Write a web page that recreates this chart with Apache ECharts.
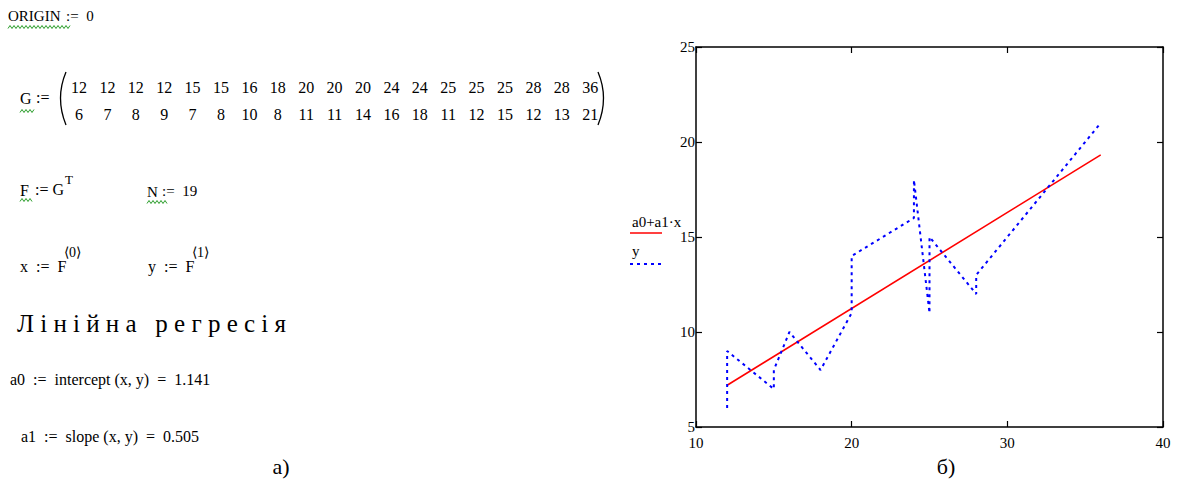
<!DOCTYPE html>
<html>
<head>
<meta charset="utf-8">
<script src="https://cdn.jsdelivr.net/npm/echarts@6/dist/echarts.min.js"></script>
<style>
html,body{margin:0;padding:0;background:#fff;}
#c{width:1178px;height:483px;}
</style>
</head>
<body>
<div id="c"></div>
<script>
// ---- data ----
var xData = [12,12,12,12,15,15,16,18,20,20,20,24,24,25,25,25,28,28,36];
var yData = [6,7,8,9,7,8,10,8,11,11,14,16,18,11,12,15,12,13,21];
var fitX = [12, 36];
var fitY = [7.20, 19.32];
var xTicks = [10, 20, 30, 40];
var yTicks = [5, 10, 15, 20, 25];
var a0Text = '1.141';
var a1Text = '0.505';

var serif = 'Liberation Serif';
var chart = echarts.init(document.getElementById('c'), null, {renderer:'svg'});

function txt(x, y, s, size, extra) {
  var o = {type:'text', x:x, y:y, style:{text:s, fontSize:size||14, fontFamily:serif, fill:'#000', textVerticalAlign:'middle'}};
  if (extra) for (var k in extra) o.style[k] = extra[k];
  return o;
}
function wavy(x0, x1, y) {
  var pts = [], i = 0;
  for (var x = x0; x <= x1; x += 2) { pts.push([x, y + (i % 2 ? -1.5 : 1.5)]); i++; }
  return {type:'polyline', shape:{points:pts}, style:{stroke:'#2a9d2a', lineWidth:1, fill:null}};
}
function paren(x, xc) {
  return {type:'bezierCurve', shape:{x1:x, y1:72, x2:x, y2:125, cpx1:xc, cpy1:98}, style:{stroke:'#000', lineWidth:1.3, fill:null}};
}

var g = [];
// ORIGIN
g.push(txt(8, 16, 'ORIGIN', 15));
g.push(txt(66, 16, ':=  0', 15));
g.push(wavy(8, 70, 27));
// Matrix G
g.push(txt(20, 98, 'G', 16));
g.push(txt(36, 97, ':=', 16));
g.push(wavy(20, 34, 111));
g.push(paren(66, 55));
g.push(paren(598, 609));
for (var i = 0; i < xData.length; i++) {
  var cx = 79 + i * 28.4;
  g.push(txt(cx, 87, String(xData[i]), 16, {textAlign:'center'}));
  g.push(txt(cx, 114, String(yData[i]), 16, {textAlign:'center'}));
}
// F := G^T, N := 19
g.push(txt(20, 190, 'F', 16));
g.push(txt(35, 189, ':= G', 16));
g.push(txt(65, 179, 'T', 13));
g.push(wavy(20, 32, 200));
g.push(txt(147, 192, 'N', 15));
g.push(txt(162, 191, ':=  19', 15));
g.push(wavy(147, 168, 202));
// x := F<0>, y := F<1>
g.push(txt(20, 266, 'x  :=  F', 16));
g.push(txt(64, 252, '\u27E80\u27E9', 14));
g.push(txt(148, 266, 'y  :=  F', 16));
g.push(txt(192, 252, '\u27E81\u27E9', 14));
// heading
g.push(txt(17, 323, '\u041B \u0456 \u043D \u0456 \u0439 \u043D \u0430   \u0440 \u0435 \u0433 \u0440 \u0435 \u0441 \u0456 \u044F', 25));
// a0, a1
g.push(txt(10, 379, 'a0  :=  intercept (x, y)  =  ' + a0Text, 16));
g.push(txt(21, 436, 'a1  :=  slope (x, y)  =  ' + a1Text, 16));
// captions
g.push(txt(281, 466, 'a)', 22, {textAlign:'center'}));
g.push(txt(946, 466, '\u0431)', 22, {textAlign:'center'}));
// legend
g.push(txt(632, 222, 'a0+a1\u00B7x', 15));
g.push({type:'line', shape:{x1:630, y1:233, x2:662, y2:233}, style:{stroke:'#ff0000', lineWidth:1.5}});
g.push(txt(632, 251, 'y', 15));
g.push({type:'line', shape:{x1:630, y1:264, x2:662, y2:264}, style:{stroke:'#0000ff', lineWidth:2, lineDash:[3,4]}});

function axis(extra) {
  var o = {
    type:'value', min:10, max:40, interval:10,
    axisLine:{show:true, lineStyle:{color:'#000', width:1.5}},
    axisTick:{show:true, inside:true, length:6, lineStyle:{color:'#000', width:1.2}},
    splitLine:{show:false}
  };
  for (var k in extra) o[k] = extra[k];
  return o;
}

chart.setOption({
  animation:false,
  backgroundColor:'#fff',
  grid:{left:696, top:47, width:467, height:380, containLabel:false},
  xAxis:[
    axis({position:'bottom', axisLabel:{show:true, margin:8, color:'#000', fontFamily:serif, fontSize:15}}),
    axis({position:'top', axisLabel:{show:false}})
  ],
  yAxis:[
    axis({min:5, max:25, interval:5, position:'left',
      axisLabel:{show:true, margin:1, color:'#000', fontFamily:serif, fontSize:15}}),
    axis({min:5, max:25, interval:5, position:'right', axisLabel:{show:false}})
  ],
  series:[
    {type:'line', name:'a0+a1\u00B7x', data:fitX.map(function(x,i){return [x, fitY[i]];}),
      showSymbol:false, lineStyle:{color:'#ff0000', width:1.6}, silent:true},
    {type:'line', name:'y', data:xData.map(function(x,i){return [x, yData[i]];}),
      showSymbol:false, lineStyle:{color:'#0000ff', width:2, type:[3,4]}, silent:true}
  ],
  graphic:g
});
</script>
</body>
</html>
